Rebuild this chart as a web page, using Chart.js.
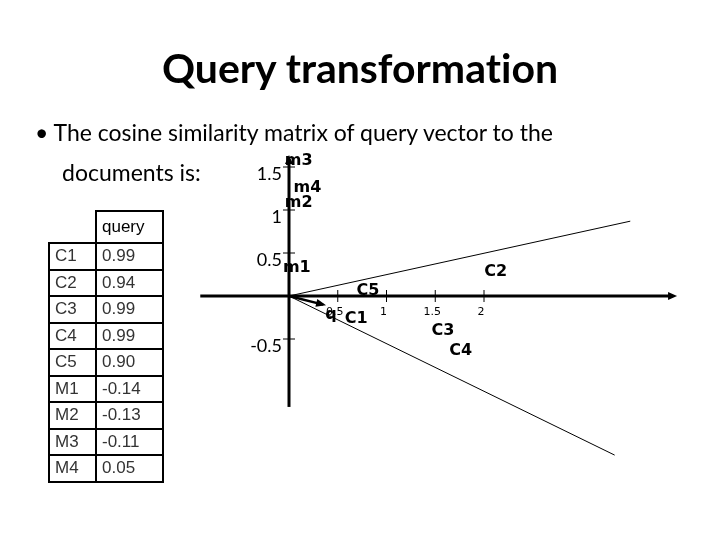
<!DOCTYPE html>
<html>
<head>
<meta charset="utf-8">
<script src="https://cdn.jsdelivr.net/npm/chart.js@4"></script>
<style>
  body { margin: 0; background: #fff; }
  .slide { position: relative; width: 720px; height: 540px; overflow: hidden; font-family: Lato, "Open Sans", sans-serif; font-variant-ligatures: none; }
  #chart1 { position: absolute; left: 0; top: 0; }
  .title { position: absolute; left: 0; width: 720px; top: 40px; line-height: 56px; text-align: center; font-size: 41px; font-weight: bold; color: #000; }
  .bullet { position: absolute; left: 35px; top: 116px; line-height: 32px; font-size: 23px; color: #000; white-space: nowrap; }
  .bullet2 { position: absolute; left: 62px; top: 156px; line-height: 32px; font-size: 23px; color: #000; }
  table { position: absolute; left: 48px; top: 210px; border-collapse: collapse; font-family: "Liberation Sans", Arial, sans-serif; font-size: 17px; color: #333; }
  td { border: 2px solid #000; height: 24.5px; padding: 0 0 0 5px; line-height: 24px; }
  td.name { width: 40px; }
  td.val { width: 60px; }
  tr.head td { height: 30px; color: #000; }
  tr.head td.empty { border: none; }
</style>
</head>
<body>
<div class="slide">
  <canvas id="chart1" width="720" height="540"></canvas>
  <div class="title">Query transformation</div>
  <div class="bullet">• The cosine similarity matrix of query vector to the</div>
  <div class="bullet2">documents is:</div>
  <table id="simTable"></table>
</div>
<script>
// tabla
const rowNames = ['C1', 'C2', 'C3', 'C4', 'C5', 'M1', 'M2', 'M3', 'M4'];
const queryValues = ['0.99', '0.94', '0.99', '0.99', '0.90', '-0.14', '-0.13', '-0.11', '0.05'];

// vectores del grafico
const upperLine = [{ x: 0, y: 0 }, { x: 3.5, y: 0.87 }];
const lowerLine = [{ x: 0, y: 0 }, { x: 3.34, y: -1.85 }];
const queryVector = [{ x: 0, y: 0 }, { x: 0.35, y: -0.1 }];

// etiquetas de puntos
const pointNames = ['m3', 'm4', 'm2', 'm1', 'C5', 'C2', 'q', 'C1', 'C3', 'C4'];
const pointX = [0.1, 0.19, 0.1, 0.08, 0.81, 2.12, 0.43, 0.69, 1.58, 1.76];
const pointY = [1.57, 1.26, 1.08, 0.33, 0.06, 0.28, -0.22, -0.26, -0.4, -0.64];

// ejes
const xTickValues = [0.5, 1, 1.5, 2];
const xTickLabels = ['0.5', '1', '1.5', '2'];
const yTickValues = [1.5, 1, 0.5, -0.5];
const yTickLabels = ['1.5', '1', '0.5', '-0.5'];
const xAxisRange = [-0.91, 3.98];
const yAxisRange = [-1.29, 1.64];

// construir tabla
const table = document.getElementById('simTable');
let html = '<tr class="head"><td class="name empty"></td><td class="val">query</td></tr>';
rowNames.forEach((name, i) => {
  html += '<tr><td class="name">' + name + '</td><td class="val">' + queryValues[i] + '</td></tr>';
});
table.innerHTML = html;

const labelPoints = pointNames.map((n, i) => ({ x: pointX[i], y: pointY[i] }));

// dibuja ejes con flechas y ticks
const axesPlugin = {
  id: 'axes',
  beforeDatasetsDraw(chart) {
    const ctx = chart.ctx;
    const xs = chart.scales.x;
    const ys = chart.scales.y;
    const x0 = xs.getPixelForValue(0);
    const y0 = ys.getPixelForValue(0);
    ctx.save();
    ctx.strokeStyle = '#000';
    ctx.fillStyle = '#000';
    ctx.lineWidth = 3;
    // eje x
    const xEnd = xs.getPixelForValue(xAxisRange[1]);
    ctx.beginPath();
    ctx.moveTo(xs.getPixelForValue(xAxisRange[0]), y0);
    ctx.lineTo(xEnd - 6, y0);
    ctx.stroke();
    ctx.beginPath();
    ctx.moveTo(xEnd, y0);
    ctx.lineTo(xEnd - 9, y0 - 4);
    ctx.lineTo(xEnd - 9, y0 + 4);
    ctx.closePath();
    ctx.fill();
    // eje y
    const yTop = ys.getPixelForValue(yAxisRange[1]);
    ctx.beginPath();
    ctx.moveTo(x0, ys.getPixelForValue(yAxisRange[0]));
    ctx.lineTo(x0, yTop + 6);
    ctx.stroke();
    ctx.beginPath();
    ctx.moveTo(x0, yTop);
    ctx.lineTo(x0 - 4, yTop + 9);
    ctx.lineTo(x0 + 4, yTop + 9);
    ctx.closePath();
    ctx.fill();
    // ticks
    ctx.lineWidth = 1;
    ctx.font = '11px "DejaVu Sans"';
    ctx.textAlign = 'center';
    ctx.textBaseline = 'middle';
    xTickValues.forEach((v, i) => {
      const px = xs.getPixelForValue(v);
      ctx.beginPath();
      ctx.moveTo(px, y0 - 6);
      ctx.lineTo(px, y0 + 6);
      ctx.stroke();
      ctx.fillText(xTickLabels[i], px - 3, y0 + 16);
    });
    ctx.font = '18px Lato';
    ctx.textAlign = 'right';
    yTickValues.forEach((v, i) => {
      const py = ys.getPixelForValue(v);
      ctx.beginPath();
      ctx.moveTo(x0 - 6, py);
      ctx.lineTo(x0 + 6, py);
      ctx.stroke();
      ctx.fillText(yTickLabels[i], x0 - 7, py + 7);
    });
    ctx.restore();
  },
  afterDatasetsDraw(chart) {
    const ctx = chart.ctx;
    // punta de flecha del vector q
    const meta = chart.getDatasetMeta(2);
    const a = meta.data[0];
    const b = meta.data[1];
    const ang = Math.atan2(b.y - a.y, b.x - a.x);
    ctx.save();
    ctx.fillStyle = '#000';
    ctx.beginPath();
    ctx.moveTo(b.x + 3 * Math.cos(ang), b.y + 3 * Math.sin(ang));
    ctx.lineTo(b.x - 7 * Math.cos(ang) - 4 * Math.sin(ang), b.y - 7 * Math.sin(ang) + 4 * Math.cos(ang));
    ctx.lineTo(b.x - 7 * Math.cos(ang) + 4 * Math.sin(ang), b.y - 7 * Math.sin(ang) - 4 * Math.cos(ang));
    ctx.closePath();
    ctx.fill();
    // etiquetas
    const lm = chart.getDatasetMeta(3);
    ctx.font = 'bold 16px "DejaVu Sans"';
    ctx.textAlign = 'center';
    ctx.textBaseline = 'middle';
    lm.data.forEach((p, i) => {
      ctx.fillText(pointNames[i], p.x, p.y);
    });
    ctx.restore();
  }
};

new Chart(document.getElementById('chart1'), {
  type: 'scatter',
  data: {
    datasets: [
      { data: upperLine, showLine: true, borderColor: '#000', borderWidth: 1, pointRadius: 0 },
      { data: lowerLine, showLine: true, borderColor: '#000', borderWidth: 1, pointRadius: 0 },
      { data: queryVector, showLine: true, borderColor: '#000', borderWidth: 2.5, pointRadius: 0 },
      { data: labelPoints, showLine: false, pointRadius: 0 }
    ]
  },
  options: {
    responsive: false,
    animation: false,
    layout: { padding: { left: 191.5, right: 21.5, top: 141.2, bottom: 54.8 } },
    scales: {
      x: { type: 'linear', min: -1, max: 4.2, display: false },
      y: { type: 'linear', min: -2.2, max: 1.8, display: false }
    },
    plugins: {
      legend: { display: false },
      tooltip: { enabled: false }
    }
  },
  plugins: [axesPlugin]
});
</script>
</body>
</html>
